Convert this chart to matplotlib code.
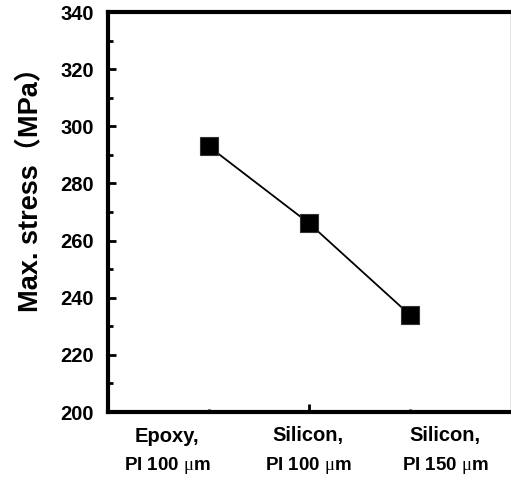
import matplotlib
matplotlib.use("Agg")
import matplotlib.pyplot as plt
from matplotlib.ticker import MultipleLocator, FixedLocator, NullFormatter

plt.rcParams["font.family"] = ["Liberation Sans", "Noto Sans CJK SC", "DejaVu Sans"]
plt.rcParams["mathtext.fontset"] = "custom"
plt.rcParams["mathtext.rm"] = "Liberation Serif"

# データ
samples = ["Epoxy,", "Silicon,", "Silicon,"]
thickness = ["PI 100 $\\mathrm{\\mu}$m", "PI 100 $\\mathrm{\\mu}$m", "PI 150 $\\mathrm{\\mu}$m"]
xpos = [1, 2, 3]
stress = [293, 266, 234]

# ラベルの位置 (データ座標)
label_x = [0.59, 1.99, 3.35]

fig = plt.figure(figsize=(5.11, 4.79), dpi=100)
ax = fig.add_axes([108 / 511, 67 / 479, 402.5 / 511, 400 / 479])

ax.plot(xpos, stress, color="black", lw=1.3, marker="s", ms=13.5,
        mfc="black", mec="#333333", mew=0.8)

ax.set_xlim(0, 4)
ax.set_ylim(200, 340)

for s in ["left", "bottom", "top"]:
    ax.spines[s].set_linewidth(3)
ax.spines["right"].set_linewidth(1)
ax.spines["right"].set_color("#808080")

ax.yaxis.set_major_locator(MultipleLocator(20))
ax.yaxis.set_minor_locator(MultipleLocator(10))
ax.tick_params(axis="y", which="major", direction="in", length=6, width=2,
               labelsize=14.5, pad=10)
ax.tick_params(axis="y", which="minor", direction="in", length=3.5, width=2)
for lbl in ax.get_yticklabels():
    lbl.set_fontweight("bold")

# x軸: 中央だけ長い目盛り
ax.xaxis.remove_overlapping_locs = False
ax.xaxis.set_major_locator(FixedLocator([2]))
ax.xaxis.set_minor_locator(FixedLocator([1, 3]))
ax.xaxis.set_major_formatter(NullFormatter())
ax.tick_params(axis="x", which="major", direction="in", length=5.5, width=2)
ax.tick_params(axis="x", which="minor", direction="in", length=2.5, width=2)
ax.tick_params(right=False, top=False)

trans = ax.get_xaxis_transform()
for x, a, b in zip(label_x, samples, thickness):
    ax.text(x, -0.06, a, transform=trans, ha="center", va="center",
            fontsize=14.5, fontweight="bold")
    ax.text(x, -0.135, b, transform=trans, ha="center", va="center",
            fontsize=13.5, fontweight="bold")

ax.set_ylabel("Max. stress\uff08MPa\uff09", fontsize=19.5, fontweight="bold")
ax.yaxis.set_label_coords(-0.16, 0.572)

fig.savefig("out.png", dpi=100)
